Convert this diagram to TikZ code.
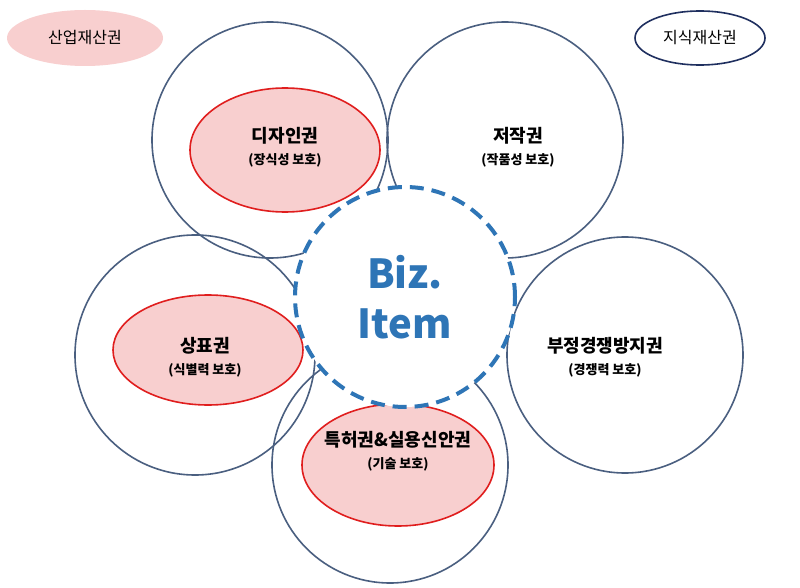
\documentclass[tikz,border=0pt]{standalone}
\usepackage{fontspec}
\setmainfont{Noto Sans CJK KR}
\usetikzlibrary{shapes.geometric}
\begin{document}
\begin{tikzpicture}[x=1pt,y=-1pt,
  ring/.style={draw=ringc,line width=1.6pt},
  pinkel/.style={draw=redc,fill=pinkc,line width=1.6pt},
  lbl/.style={align=center,font=\bfseries\fontsize{18}{21}\selectfont},
  sub/.style={font=\bfseries\fontsize{13}{15}\selectfont}]
\definecolor{ringc}{HTML}{4A5F80}
\definecolor{redc}{HTML}{E01E1E}
\definecolor{pinkc}{HTML}{F8CFCF}
\definecolor{bluec}{HTML}{2E75B6}
\definecolor{navyc}{HTML}{1F2F5F}
\useasboundingbox (0,0) rectangle (800,588);
\fill[white] (0,0) rectangle (800,588);
% legend
\node[ellipse,fill=pinkc,minimum width=156pt,minimum height=56pt] (ind) at (85,38) {};
\node[font=\fontsize{16}{18}\selectfont] at (ind) {산업재산권};
\node[ellipse,draw=navyc,line width=1.6pt,fill=white,minimum width=130pt,minimum height=54pt] (intel) at (700,38) {};
\node[font=\fontsize{16}{18}\selectfont] at (intel) {지식재산권};
% pink ellipses
\node[ellipse,pinkel,minimum width=190pt,minimum height=124pt] (des) at (285,150) {};
\node[ellipse,pinkel,minimum width=190pt,minimum height=110pt] (tm) at (208,350) {};
\node[ellipse,pinkel,minimum width=192pt,minimum height=122pt] (pat) at (398,465) {};
% rings
\node[circle,ring,minimum size=236pt] (c1) at (270,140) {};
\node[circle,ring,minimum size=236pt] (c2) at (505,140) {};
\node[circle,ring,minimum size=236pt] (c3) at (625,355) {};
\node[circle,ring,minimum size=236pt] (c4) at (390,465) {};
\node[circle,ring,minimum size=240pt] (c5) at (195,355) {};
% center
\node[circle,draw=bluec,fill=white,dash pattern=on 14pt off 8pt,line width=4pt,minimum size=220pt] (biz) at (405,297) {};
\node[align=center,text=bluec,font=\bfseries\fontsize{40}{50}\selectfont] at (biz) {Biz.\\Item};
% labels
\node[lbl] at (285,136) {디자인권};
\node[sub] at (285,160) {(장식성 보호)};
\node[lbl] at (518,136) {저작권};
\node[sub] at (518,160) {(작품성 보호)};
\node[lbl] at (605,346) {부정경쟁방지권};
\node[sub] at (605,370) {(경쟁력 보호)};
\node[lbl] at (205,346) {상표권};
\node[sub] at (205,370) {(식별력 보호)};
\node[lbl] at (398,440) {특허권\&실용신안권};
\node[sub] at (398,464) {(기술 보호)};
\end{tikzpicture}
\end{document}
